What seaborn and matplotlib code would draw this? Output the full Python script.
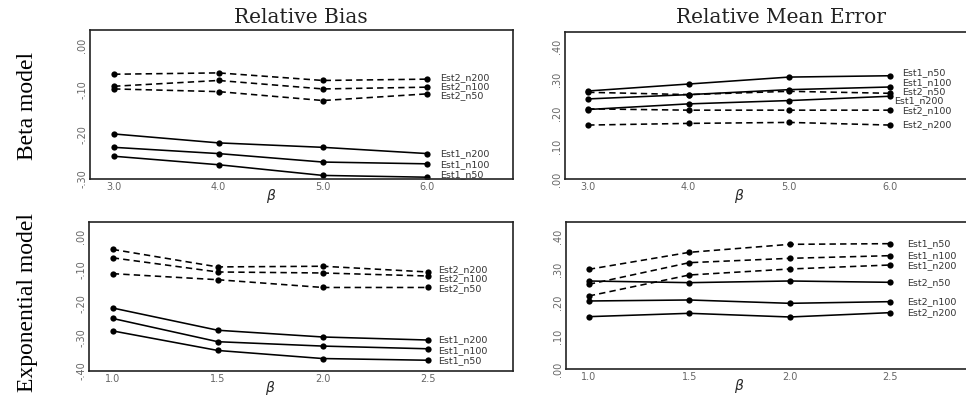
"""
Relative bias / relative mean error of two estimators, beta and exponential model.
"""

import matplotlib
matplotlib.use("Agg")
import matplotlib.pyplot as plt
import seaborn as sns

sns.set_theme(style="white")

beta_x = [3.0, 4.0, 5.0, 6.0]
exp_x = [1.0, 1.5, 2.0, 2.5]
beta_xlabels = ["3.0", "4.0", "5.0", "6.0"]
exp_xlabels = ["1.0", "1.5", "2.0", "2.5"]

bias_yticks = [0.0, -0.1, -0.2, -0.3]
bias_ylabels = [".00", "-.10", "-.20", "-.30"]
exp_bias_yticks = [0.0, -0.1, -0.2, -0.3, -0.4]
exp_bias_ylabels = [".00", "-.10", "-.20", "-.30", "-.40"]
err_yticks = [0.0, 0.1, 0.2, 0.3, 0.4]
err_ylabels = [".00", ".10", ".20", ".30", ".40"]

# Beta model, relative bias
rb_beta_names = ["Est2_n200", "Est2_n100", "Est2_n50", "Est1_n200", "Est1_n100", "Est1_n50"]
rb_beta_dashed = [True, True, True, False, False, False]
rb_beta_vals = [
    [-0.065, -0.062, -0.079, -0.076],
    [-0.092, -0.079, -0.098, -0.094],
    [-0.098, -0.104, -0.124, -0.109],
    [-0.199, -0.219, -0.229, -0.243],
    [-0.229, -0.243, -0.262, -0.266],
    [-0.249, -0.268, -0.292, -0.296],
]
rb_beta_label_y = [-0.072, -0.093, -0.114, -0.243, -0.267, -0.290]
rb_beta_label_x = [6.12] * 6

# Beta model, relative mean error
rme_beta_names = ["Est1_n50", "Est1_n100", "Est2_n50", "Est1_n200", "Est2_n100", "Est2_n200"]
rme_beta_dashed = [False, False, True, False, True, True]
rme_beta_vals = [
    [0.266, 0.287, 0.308, 0.312],
    [0.242, 0.255, 0.270, 0.278],
    [0.262, 0.255, 0.265, 0.259],
    [0.210, 0.227, 0.237, 0.250],
    [0.212, 0.208, 0.208, 0.208],
    [0.163, 0.168, 0.171, 0.163],
]
rme_beta_label_y = [0.322, 0.290, 0.263, 0.236, 0.208, 0.163]
rme_beta_label_x = [6.12, 6.12, 6.12, 6.05, 6.12, 6.12]

# Exponential model, relative bias
rb_exp_names = ["Est2_n200", "Est2_n100", "Est2_n50", "Est1_n200", "Est1_n100", "Est1_n50"]
rb_exp_dashed = [True, True, True, False, False, False]
rb_exp_vals = [
    [-0.039, -0.091, -0.089, -0.106],
    [-0.064, -0.106, -0.109, -0.118],
    [-0.111, -0.129, -0.152, -0.152],
    [-0.213, -0.279, -0.299, -0.308],
    [-0.244, -0.313, -0.326, -0.334],
    [-0.281, -0.339, -0.363, -0.368],
]
rb_exp_label_y = [-0.099, -0.126, -0.154, -0.308, -0.338, -0.369]
rb_exp_label_x = [2.55] * 6

# Exponential model, relative mean error
rme_exp_names = ["Est1_n50", "Est1_n100", "Est1_n200", "Est2_n50", "Est2_n100", "Est2_n200"]
rme_exp_dashed = [True, True, True, False, False, False]
rme_exp_vals = [
    [0.300, 0.351, 0.375, 0.377],
    [0.255, 0.320, 0.333, 0.341],
    [0.220, 0.283, 0.301, 0.313],
    [0.265, 0.260, 0.265, 0.261],
    [0.205, 0.208, 0.198, 0.203],
    [0.158, 0.168, 0.157, 0.170],
]
rme_exp_label_y = [0.378, 0.342, 0.310, 0.261, 0.203, 0.170]
rme_exp_label_x = [2.585] * 6

TICK_COLOR = "#666666"
DASH = (0, (4, 2.6))


def draw_panel(ax, x, xlabels, vals, names, dashed, label_y, label_x,
               yticks, ylabels, xlim, ylim):
    for v, d in zip(vals, dashed):
        sns.lineplot(x=x, y=v, ax=ax, color="black", lw=1.15,
                     linestyle=DASH if d else "-", marker="o",
                     markersize=4.5, markeredgewidth=0)
    for n, lx, ly in zip(names, label_x, label_y):
        ax.text(lx, ly, n, fontsize=6.8, color="#333333",
                va="center", ha="left", clip_on=False)
    ax.set_xlim(*xlim)
    ax.set_ylim(*ylim)
    ax.set_xticks(x)
    ax.set_xticklabels(xlabels)
    ax.set_yticks(yticks)
    ax.set_yticklabels(ylabels, rotation=90, va="center")
    ax.tick_params(axis="both", direction="in", length=4, width=0.8,
                   color="#999999", labelsize=7, labelcolor=TICK_COLOR, pad=2)
    for s in ax.spines.values():
        s.set_color("#222222")
        s.set_linewidth(1.2)
    ax.annotate(r"$\beta$", xy=((x[0] + x[-1]) / 2, -0.115),
                xycoords=("data", "axes fraction"), ha="center", va="center",
                fontsize=10, annotation_clip=False)


fig = plt.figure(figsize=(9.66, 3.96), dpi=100)
ax_tl = fig.add_axes([0.0932, 0.548, 0.4379, 0.376])
ax_tr = fig.add_axes([0.5849, 0.548, 0.4213, 0.371])
ax_bl = fig.add_axes([0.0921, 0.0631, 0.4389, 0.376])
ax_br = fig.add_axes([0.586, 0.0674, 0.420, 0.372])

draw_panel(ax_tl, beta_x, beta_xlabels, rb_beta_vals, rb_beta_names, rb_beta_dashed,
           rb_beta_label_y, rb_beta_label_x, bias_yticks, bias_ylabels,
           (2.77, 6.82), (-0.30, 0.034))
draw_panel(ax_tr, beta_x, beta_xlabels, rme_beta_vals, rme_beta_names, rme_beta_dashed,
           rme_beta_label_y, rme_beta_label_x, err_yticks, err_ylabels,
           (2.77, 6.82), (0.0, 0.444))
draw_panel(ax_bl, exp_x, exp_xlabels, rb_exp_vals, rb_exp_names, rb_exp_dashed,
           rb_exp_label_y, rb_exp_label_x, exp_bias_yticks, exp_bias_ylabels,
           (0.887, 2.905), (-0.40, 0.042))
draw_panel(ax_br, exp_x, exp_xlabels, rme_exp_vals, rme_exp_names, rme_exp_dashed,
           rme_exp_label_y, rme_exp_label_x, err_yticks, err_ylabels,
           (0.887, 2.905), (0.0, 0.442))

fig.text(0.311, 0.957, "Relative Bias", ha="center", va="center",
         fontsize=14.5, family="DejaVu Serif", color="#222222")
fig.text(0.809, 0.957, "Relative Mean Error", ha="center", va="center",
         fontsize=14.5, family="DejaVu Serif", color="#222222")

fig.text(0.028, 0.732, "Beta model", rotation=90, ha="center", va="center",
         fontsize=17, family="Liberation Serif", color="black")
fig.text(0.028, 0.235, "Exponential model", rotation=90, ha="center", va="center",
         fontsize=17, family="Liberation Serif", color="black")

fig.savefig("out.png", dpi=100)
